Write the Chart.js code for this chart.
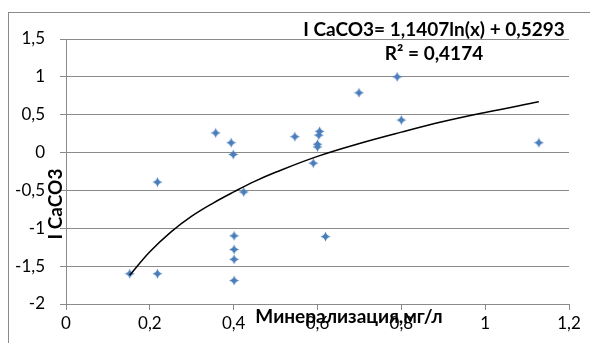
<!DOCTYPE html>
<html>
<head>
<meta charset="utf-8">
<script src="https://cdn.jsdelivr.net/npm/chart.js@4.4.0/dist/chart.umd.min.js"></script>
<style>
    html, body { margin: 0; padding: 0; background: #fff; }
    #wrap { width: 590px; height: 343px; position: relative; }
</style>
</head>
<body>
<div id="wrap"><canvas id="scatter"></canvas></div>
<script>
// measured points (Минерализация, I CaCO3)
const mineral = [0.152, 0.218, 0.218, 0.357, 0.394, 0.399, 0.401, 0.401, 0.401, 0.401, 0.424,
    0.546, 0.59, 0.6, 0.6, 0.603, 0.605, 0.619, 0.699, 0.79, 0.80, 1.128];
const iCaCO3 = [-1.6, -1.6, -0.39, 0.26, 0.13, -0.025, -1.10, -1.28, -1.41, -1.69, -0.52,
    0.21, -0.14, 0.11, 0.075, 0.23, 0.28, -1.11, 0.79, 1.0, 0.43, 0.13];

// trend curve
const trendX = [0.152, 0.2, 0.25, 0.3, 0.35, 0.4, 0.45, 0.5, 0.6, 0.7, 0.8, 0.9, 1.0, 1.128];
const trendY = [-1.62, -1.31, -1.05, -0.84, -0.67, -0.52, -0.38, -0.26, -0.05, 0.12, 0.27, 0.41, 0.53, 0.67];

const xTitle = 'Минерализация,мг/л';
const yTitle = 'I CaCO3';
const eqText = 'I CaCO3= 1,1407ln(x) + 0,5293';
const r2Text = 'R² = 0,4174';

const FONT = 'Lato, "Open Sans", sans-serif';

// 4-point star marker like excel
const makeMarker = () => {
    const c = document.createElement('canvas');
    c.width = 11;
    c.height = 11;
    const g = c.getContext('2d');
    g.fillStyle = '#4a7ebb';
    g.beginPath();
    g.moveTo(5.5, 0.5);
    g.quadraticCurveTo(6.5, 4.5, 10.5, 5.5);
    g.quadraticCurveTo(6.5, 6.5, 5.5, 10.5);
    g.quadraticCurveTo(4.5, 6.5, 0.5, 5.5);
    g.quadraticCurveTo(4.5, 4.5, 5.5, 0.5);
    g.fill();
    return c;
}

const fmt = (v) => String(Math.round(v * 10) / 10).replace('.', ',');

const points = mineral.map((x, i) => ({x: x, y: iCaCO3[i]}));
const trend = trendX.map((x, i) => ({x: x, y: trendY[i]}));

const decorPlugin = {
    id: 'decor',
    beforeDraw: (chart) => {
        const c = chart.ctx;
        c.save();
        c.strokeStyle = '#8a8a8a';
        c.lineWidth = 1;
        c.strokeRect(8.5, 12.5, 800, 800);
        c.restore();
    },
    afterDraw: (chart) => {
        const c = chart.ctx;
        c.save();
        c.fillStyle = '#000';
        c.textAlign = 'center';
        c.textBaseline = 'middle';
        c.font = 'bold 19px ' + FONT;
        c.fillText(eqText, 434, 30);
        c.fillText(r2Text, 434, 54);
        c.fillText(xTitle, 349, 317);
        c.translate(56, 204);
        c.rotate(-Math.PI / 2);
        c.fillText(yTitle, 0, 0);
        c.restore();
    }
};

const ctx = document.getElementById('scatter');
new Chart(ctx, {
    type: 'scatter',
    data: {
        datasets: [{
            label: 'I CaCO3',
            data: points,
            pointStyle: makeMarker(),
            pointRadius: 5,
            pointHoverRadius: 5,
            order: 2
        }, {
            label: 'trend',
            type: 'line',
            data: trend,
            showLine: true,
            borderColor: '#000',
            borderWidth: 1.5,
            pointRadius: 0,
            tension: 0.4,
            fill: false,
            order: 1
        }]
    },
    plugins: [decorPlugin],
    options: {
        responsive: true,
        maintainAspectRatio: false,
        animation: false,
        layout: {padding: {top: 39, right: 21, left: 0, bottom: 0}},
        plugins: {
            legend: {display: false},
            tooltip: {enabled: false}
        },
        scales: {
            x: {
                type: 'linear',
                min: 0,
                max: 1.2,
                afterFit: (s) => { s.height = 39; },
                ticks: {
                    stepSize: 0.2,
                    callback: fmt,
                    color: '#000',
                    font: {family: FONT, size: 17},
                    padding: 3,
                    maxRotation: 0
                },
                grid: {
                    drawOnChartArea: false,
                    drawTicks: true,
                    tickLength: 6,
                    color: '#8a8a8a'
                },
                border: {color: '#8a8a8a', width: 1}
            },
            y: {
                type: 'linear',
                min: -2,
                max: 1.5,
                afterFit: (s) => { s.width = 66; },
                ticks: {
                    stepSize: 0.5,
                    callback: fmt,
                    color: '#000',
                    font: {family: FONT, size: 17},
                    padding: 15
                },
                grid: {
                    color: '#8a8a8a',
                    lineWidth: 1,
                    tickLength: 6
                },
                border: {color: '#8a8a8a', width: 1}
            }
        }
    }
});
</script>
</body>
</html>
